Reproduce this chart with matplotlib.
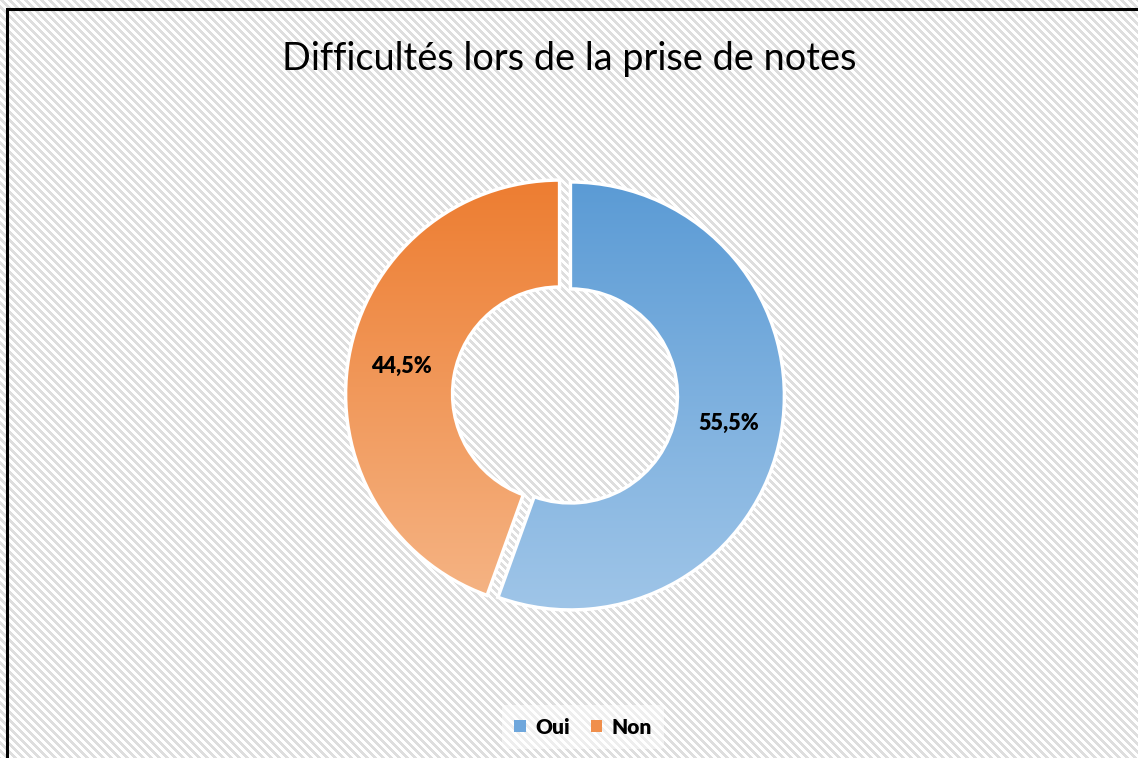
import numpy as np
import matplotlib
matplotlib.use("Agg")
import matplotlib.pyplot as plt
from matplotlib.colors import LinearSegmentedColormap
from matplotlib.patches import Rectangle, Patch

W, H = 1138, 758

# data
labels = ["Oui", "Non"]
values = [55.5, 44.5]
title = "Difficultés lors de la prise de notes"

# gradient colours (top -> bottom) per slice
top_colors = ["#5B9BD5", "#ED7D31"]
bottom_colors = ["#9FC5E8", "#F5B383"]
legend_colors = ["#6FA7DC", "#F08F4C"]

plt.rcParams["font.family"] = ["Lato", "DejaVu Sans"]

fig = plt.figure(figsize=(W / 100, H / 100), dpi=100)
ax = fig.add_axes([0, 0, 1, 1])

# striped background
rr, cc = np.mgrid[0:H, 0:W]
stripes = np.where(((cc - rr) % 8) < 4, 0.87, 1.0)
ax.imshow(stripes, cmap="gray", vmin=0, vmax=1, extent=(0, W, 0, H),
          origin="upper", zorder=0, interpolation="nearest")

# donut (explode is in data units = pixels here)
cx, cy, R = 565, H - 395, 214
wedges, texts, autotexts = ax.pie(
    values, center=(cx, cy), radius=R, startangle=90, counterclock=False,
    explode=[5.5, 5.5], pctdistance=0.75,
    autopct=lambda p: f"{p:.1f}%".replace(".", ","),
    wedgeprops=dict(width=R * 0.5, edgecolor="white", linewidth=2.5),
    textprops=dict(fontsize=15.5, fontweight="heavy", color="black"),
)

grad = np.linspace(0, 1, 256).reshape(-1, 1)
for w, c0, c1 in zip(wedges, top_colors, bottom_colors):
    w.set_facecolor("none")
    w.set_zorder(2)
    ext = w.get_path().get_extents()
    cmap = LinearSegmentedColormap.from_list("g", [c0, c1])
    im = ax.imshow(grad, cmap=cmap, aspect="auto", origin="upper",
                   extent=(ext.x0, ext.x1, ext.y0, ext.y1), zorder=1)
    im.set_clip_path(w)
for t in autotexts:
    t.set_zorder(3)

# frame border (cropped on right and bottom)
ax.add_patch(Rectangle((7, -20), W + 20, H - 9 + 20, fill=False,
                       edgecolor="black", linewidth=2.2, zorder=4))

ax.set_xlim(0, W)
ax.set_ylim(0, H)
ax.set_aspect("auto")
ax.axis("off")

fig.text(0.5, 1 - 59 / H, title, ha="center", va="center", fontsize=27.3)

handles = [Patch(facecolor=c, edgecolor="none") for c in legend_colors]
leg = fig.legend(handles, labels, loc="center", bbox_to_anchor=(583 / W, 1 - 727 / H),
                 ncol=2, frameon=True, fontsize=15, handlelength=0.55, handleheight=0.55,
                 handletextpad=0.45, columnspacing=1.0, borderpad=0.6)
leg.get_frame().set_facecolor("white")
leg.get_frame().set_alpha(0.5)
leg.get_frame().set_edgecolor("none")
for t in leg.get_texts():
    t.set_fontweight("heavy")

fig.savefig("out.png", dpi=100)
